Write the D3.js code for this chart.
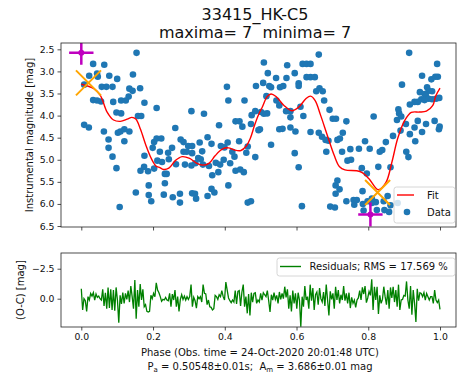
<!DOCTYPE html>
<html>
<head>
<meta charset="utf-8">
<script src="https://cdn.jsdelivr.net/npm/d3@7"></script>
<style>
  body { margin: 0; background: #fff; }
  text { font-family: "DejaVu Sans", sans-serif; fill: #111; white-space: pre; }
</style>
</head>
<body>
<svg id="chart"></svg>
<script>
// ---- data ----
const phase = [
  0.154,0.033,0.064,0.022,0.044,0.046,0.078,0.100,0.144,0.008,0.057,0.070,0.087,0.134,0.143,0.164,
  0.033,0.044,0.055,0.089,0.111,0.124,0.132,0.176,0.210,0.098,0.111,0.158,0.167,0.008,0.021,0.063,
  0.102,0.109,0.120,0.134,0.076,0.120,0.076,0.087,0.098,0.176,0.203,0.210,0.199,0.165,0.175,0.186,
  0.203,0.212,0.188,0.152,0.188,0.195,0.107,
  0.223,0.219,0.225,0.233,0.238,0.233,0.230,0.255,0.275,0.275,0.262,0.242,0.253,0.244,0.264,0.277,
  0.285,0.285,0.294,0.298,0.309,0.309,0.289,0.307,0.330,0.337,0.333,0.326,0.318,0.339,0.352,0.363,
  0.356,0.375,0.365,0.382,0.387,0.397,0.389,0.399,0.408,0.421,0.427,0.415,0.430,0.443,0.453,0.440,
  0.464,0.460,0.485,0.384,0.307,0.342,0.406,0.410,0.455,0.487,0.430,0.441,0.449,0.473,0.475,0.485,
  0.494,0.410,0.352,0.363,0.371,0.317,0.309,0.320,0.464,0.473,
  0.662,0.509,0.574,0.617,0.628,0.639,0.520,0.543,0.595,0.572,0.628,0.639,0.651,0.507,0.606,0.606,
  0.524,0.529,0.554,0.563,0.664,0.673,0.655,0.516,0.544,0.552,0.571,0.583,0.611,0.677,0.692,0.501,
  0.518,0.509,0.583,0.619,0.701,0.710,0.498,0.552,0.561,0.583,0.597,0.639,0.662,0.671,0.681,0.689,
  0.739,0.729,0.721,0.714,0.529,0.595,0.683,0.727,0.750,0.742,0.752,0.606,0.714,0.709,0.720,0.709,
  0.739,0.759,0.615,0.694,0.707,0.761,
  0.914,0.992,0.994,0.987,0.950,0.894,0.976,0.964,0.968,0.978,0.944,0.957,0.961,0.948,0.957,0.968,
  0.978,0.989,0.998,0.929,0.938,0.916,0.884,0.815,0.886,0.892,0.880,0.938,0.985,0.905,0.961,0.929,
  0.999,0.997,0.890,0.916,0.950,0.931,0.869,0.849,0.791,0.774,0.804,0.832,0.839,0.906,0.912,0.828,
  0.862,0.796,0.784,0.768,0.785,0.798,0.810,0.821,0.843,0.862,0.882,0.787,0.824,0.845,0.858,0.854,
  0.810,0.782
];
const mag = [
  2.58,2.83,2.85,3.10,3.05,3.12,3.10,3.17,3.07,3.30,3.35,3.35,3.35,3.39,3.44,3.38,
  3.65,3.66,3.68,3.69,3.66,3.66,3.57,3.71,3.83,3.93,3.95,4.01,4.01,4.21,4.27,4.36,
  4.39,4.36,4.31,4.36,4.54,4.58,4.73,4.93,5.19,4.91,4.60,4.52,4.73,5.25,5.16,5.26,
  5.20,5.02,5.58,5.74,5.80,5.94,6.07,
  4.52,4.82,5.05,5.32,5.32,5.53,5.79,5.85,5.77,5.97,4.28,4.84,4.73,4.99,5.10,4.54,
  4.60,4.82,4.82,4.69,4.69,4.85,5.11,5.13,4.61,4.81,4.99,4.96,5.08,5.11,4.49,4.64,
  5.14,5.07,5.35,5.28,5.11,5.00,4.69,4.72,4.61,4.82,4.93,5.08,5.25,5.22,5.28,4.58,
  4.70,4.84,4.94,4.22,3.90,3.96,3.35,3.66,3.66,3.33,4.13,4.13,4.25,4.19,3.99,3.90,
  4.33,5.58,5.82,5.66,5.74,5.77,5.76,5.88,5.97,5.94,
  2.62,2.80,2.86,2.83,2.83,2.83,3.04,3.15,3.04,3.15,3.13,3.13,3.13,3.26,3.27,3.33,
  3.33,3.36,3.36,3.33,3.38,3.45,3.45,3.56,3.66,3.77,3.90,3.90,3.80,3.66,3.87,3.92,
  3.95,3.96,4.04,4.01,4.07,4.07,4.31,4.31,4.30,4.27,4.36,4.37,4.39,4.48,4.55,4.57,
  4.13,4.39,4.52,4.55,4.66,4.85,4.82,4.82,4.76,5.02,5.00,5.17,5.47,5.58,5.67,5.77,
  5.94,5.91,6.05,6.06,6.08,6.02,
  2.58,2.83,3.12,3.12,3.10,3.30,3.18,3.36,3.44,3.45,3.47,3.51,3.56,3.63,3.65,3.62,
  3.63,3.62,3.60,3.69,3.69,3.75,3.86,4.02,3.95,4.02,4.10,4.12,4.12,4.19,4.19,4.27,
  4.25,4.31,4.34,4.42,4.37,4.58,4.46,4.60,4.58,4.75,4.75,4.82,4.78,4.82,4.94,5.16,
  5.17,5.31,5.71,5.91,6.00,5.94,5.98,5.96,5.94,6.03,5.98,6.15,6.14,6.14,6.18,5.82,
  5.88,5.19
];

// ---- fitted curve ----
const fitPhase = [0.000,0.035,0.053,0.072,0.090,0.109,0.128,0.141,0.152,0.165,0.180,0.195,0.208,0.219,
  0.229,0.244,0.262,0.281,0.302,0.320,0.337,0.356,0.373,0.393,0.410,0.427,0.445,0.460,0.471,0.483,
  0.494,0.505,0.518,0.529,0.543,0.565,0.587,0.606,0.626,0.639,0.652,0.667,0.686,0.705,0.720,0.735,
  0.768,0.783,0.802,0.828,0.849,0.866,0.882,0.901,0.920,0.942,0.962,0.980,0.988,1.000];
const fitMag = [3.29,3.39,3.54,3.92,4.10,4.13,4.08,4.04,4.08,4.31,4.67,4.97,5.14,5.18,
  5.22,5.19,5.02,4.93,4.97,5.07,5.12,5.08,4.91,4.76,4.73,4.78,4.79,4.69,4.52,4.22,
  3.98,3.80,3.57,3.51,3.57,3.77,3.89,3.81,3.62,3.56,3.66,3.99,4.45,4.90,5.16,5.23,
  5.25,5.29,5.43,5.68,5.52,5.05,4.52,4.12,3.93,3.92,3.90,3.77,3.56,3.38];

// observed extremes (magenta) and fitted extremes (orange)
const obsExtPhase = [0.000, 0.806];
const obsExtMag = [2.58, 6.24];
const obsErrPhase = [0.034, 0.034];
const obsErrMag = [0.27, 0.27];
const fitExtPhase = [0.020, 0.826];
const fitExtMag = [3.26, 5.74];

// ---- residuals O-C, evenly sampled in phase 0..1 ----
const residuals = [
  -0.83,0.94,0,0.17,1.06,-0.17,0.11,-0.44,-0.22,-0.5,0.11,-0.39,-0.11,-0.22,0,0.11,-0.78,0.61,-0.5,0.83,
  -0.94,0.78,-0.78,0.94,-0.72,1.0,-0.94,0.11,2.0,-0.28,0.44,-0.5,0.39,-0.44,0.06,-0.67,0.28,-1.06,-0.17,0.83,
  -1.56,1.67,-0.72,0.67,-1.22,0.11,-0.78,0.67,0.5,1.06,1.11,1.06,-0.28,0,-0.44,-0.17,-1.33,-0.72,-0.5,-0.17,
  0.22,0.06,0.11,-0.11,0.11,0.17,-0.44,0.67,-0.39,0.11,-0.72,0.67,-0.17,1.06,0.06,-0.33,0.06,-0.22,0.11,-0.17,
  0.06,-0.17,-1.17,0.67,-0.11,0.17,0.78,-0.17,0,-0.17,0.28,-1.17,-0.44,-0.39,0.5,0.11,0.67,0.72,0.94,0.83,
  -0.28,-0.17,0.06,-0.33,-0.17,-0.67,-0.17,0.11,-1.39,-0.72,-0.06,0.17,0.33,0.11,0.28,-0.67,0.44,-0.61,-0.67,0.61,
  -0.56,-1.17,0.67,-0.17,1.22,-0.39,1.39,-0.5,0.28,-0.44,-0.5,0.39,0.11,0.28,
  -0.44,0.11,-0.5,-0.33,-0.17,-0.67,0.17,1.11,-0.33,0.11,-0.5,0.06,-0.28,0.39,-0.56,0.06,-0.44,0,-1.0,-0.11,
  -0.78,0.83,-0.28,1.06,-0.67,0.39,-0.44,0.83,-0.5,0.11,2.33,-0.17,0.67,-1.06,0.11,-0.17,0.83,-1.17,0.17,-0.89,
  0.94,-0.33,-0.56,0.5,-0.89,0,0.28,-0.56,0.61,-1.17,0.11,1.39,-0.61,0.06,-0.44,0.83,-1.0,0.11,-0.72,0.39,
  -0.33,0.11,-1.06,0.17,-0.44,0.39,-0.5,0.78,-0.11,0.39,0.11,0.72,0.11,-0.06,-0.67,0.11,-0.94,-0.39,-1.06,0.33,
  -0.06,-0.61,-0.28,-1.61,0.94,-1.0,0.11,-1.0,1.28,-0.28,0.39,0.06,-1.0,-0.17,0.5,-0.72,0.83,-0.94,-0.06,-1.0,
  0.28,-0.72,0.67,-1.17,0.94,0.11,0.06,-0.28,-0.22,-1.44,0.11,0.83,-1.06,1.33,-0.72,0.39,1.94,-0.83,0.17,-0.5,
  -0.44,-0.17,-0.5,0.11,-0.44,-0.17,0.11,-0.17,-0.17,0.39,-0.72,0.11,0.33,0.11,0.89
];

const magTicks = [2.5, 3.0, 3.5, 4.0, 4.5, 5.0, 5.5, 6.0, 6.5];
const resTicks = [-2.5, 0.0];
const phaseTicks = [0.0, 0.2, 0.4, 0.6, 0.8, 1.0];

// ---- layout ----
const W = 457, H = 376;
const L = 61, R = 456;
const top1 = 43, bot1 = 227;
const top2 = 253, bot2 = 327;

const svg = d3.select("#chart").attr("width", W).attr("height", H);

const x = d3.scaleLinear().domain([-0.0566, 1.0446]).range([L, R]);
const y = d3.scaleLinear().domain([2.357, 6.522]).range([top1, bot1]);
const yr = d3.scaleLinear().domain([-3.81, 2.36]).range([top2, bot2]);
const idx = d3.scaleLinear().domain([0, residuals.length - 1]).range([0, 1]);

svg.append("defs").call(d => {
  d.append("clipPath").attr("id", "clip1").append("rect")
    .attr("x", L).attr("y", top1).attr("width", R - L).attr("height", bot1 - top1);
  d.append("clipPath").attr("id", "clip2").append("rect")
    .attr("x", L).attr("y", top2).attr("width", R - L).attr("height", bot2 - top2);
});

// title
svg.append("text").attr("x", 255).attr("y", 19.5).attr("text-anchor", "middle")
  .style("font-size", "16px").text("33415_HK-C5");
svg.append("text").attr("x", 255).attr("y", 37.5).attr("text-anchor", "middle")
  .style("font-size", "16px").text("maxima= 7  minima= 7");

// ---- top panel ----
const g1 = svg.append("g").attr("clip-path", "url(#clip1)");

g1.selectAll("circle.pt")
  .data(d3.range(phase.length))
  .join("circle")
  .attr("class", "pt")
  .attr("cx", i => x(phase[i]))
  .attr("cy", i => y(mag[i]))
  .attr("r", 3.3)
  .attr("fill", "#1f77b4");

const fitLine = d3.line()
  .x(i => x(fitPhase[i]))
  .y(i => y(fitMag[i]))
  .curve(d3.curveCatmullRom.alpha(0.5));

g1.append("path")
  .attr("d", fitLine(d3.range(fitPhase.length)))
  .attr("fill", "none").attr("stroke", "#ff0000").attr("stroke-width", 1.4);

// orange X at fitted extremes
fitExtPhase.forEach((p, i) => {
  const cx = x(p), cy = y(fitExtMag[i]), s = 12.5;
  g1.append("path")
    .attr("d", `M${cx - s},${cy - s}L${cx + s},${cy + s}M${cx - s},${cy + s}L${cx + s},${cy - s}`)
    .attr("stroke", "orange").attr("stroke-width", 2).attr("fill", "none");
});

// magenta error-bar crosses at observed extremes
obsExtPhase.forEach((p, i) => {
  const m = obsExtMag[i];
  g1.append("path")
    .attr("d", `M${x(p - obsErrPhase[i])},${y(m)}L${x(p + obsErrPhase[i])},${y(m)}` +
               `M${x(p)},${y(m - obsErrMag[i])}L${x(p)},${y(m + obsErrMag[i])}`)
    .attr("stroke", "#bf00bf").attr("stroke-width", 2.5).attr("fill", "none");
  g1.append("circle").attr("cx", x(p)).attr("cy", y(m)).attr("r", 3).attr("fill", "#bf00bf");
});

// frame + axes
svg.append("rect").attr("x", L).attr("y", top1).attr("width", R - L).attr("height", bot1 - top1)
  .attr("fill", "none").attr("stroke", "#222").attr("stroke-width", 0.8);

const yAx1 = svg.append("g").attr("transform", `translate(${L},0)`)
  .call(d3.axisLeft(y).tickValues(magTicks).tickFormat(d3.format(".1f")).tickSizeOuter(0).tickSize(3.5).tickPadding(3));
const xAx1 = svg.append("g").attr("transform", `translate(0,${bot1})`)
  .call(d3.axisBottom(x).tickValues(phaseTicks).tickFormat("").tickSizeOuter(0).tickSize(3.5));

// legend (top)
const lg1 = svg.append("g");
lg1.append("rect").attr("x", 394).attr("y", 187).attr("width", 61).attr("height", 36)
  .attr("rx", 2.5).attr("fill", "#fff").attr("fill-opacity", 0.8).attr("stroke", "#ccc").attr("stroke-width", 0.8);
lg1.append("line").attr("x1", 397).attr("x2", 414).attr("y1", 195).attr("y2", 195)
  .attr("stroke", "#ff0000").attr("stroke-width", 1.4);
lg1.append("text").attr("x", 427).attr("y", 198.5).style("font-size", "10px").text("Fit");
lg1.append("circle").attr("cx", 407).attr("cy", 212).attr("r", 3.3).attr("fill", "#1f77b4");
lg1.append("text").attr("x", 427).attr("y", 215.5).style("font-size", "10px").text("Data");

svg.append("text")
  .attr("transform", `translate(${29},${(top1 + bot1) / 2}) rotate(-90)`)
  .attr("text-anchor", "middle").attr("dy", "0.35em")
  .style("font-size", "10px").text("Instrumental magnitude [mag]");

// ---- bottom panel ----
const g2 = svg.append("g").attr("clip-path", "url(#clip2)");
const resLine = d3.line().x((d, i) => x(idx(i))).y(d => yr(d));
g2.append("path").attr("d", resLine(residuals))
  .attr("fill", "none").attr("stroke", "#008000").attr("stroke-width", 1.3);

svg.append("rect").attr("x", L).attr("y", top2).attr("width", R - L).attr("height", bot2 - top2)
  .attr("fill", "none").attr("stroke", "#222").attr("stroke-width", 0.8);

const yAx2 = svg.append("g").attr("transform", `translate(${L},0)`)
  .call(d3.axisLeft(yr).tickValues(resTicks).tickFormat(d => d3.format(".1f")(d).replace("-", "\u2212"))
    .tickSizeOuter(0).tickSize(3.5).tickPadding(3));
const xAx2 = svg.append("g").attr("transform", `translate(0,${bot2})`)
  .call(d3.axisBottom(x).tickValues(phaseTicks).tickFormat(d3.format(".1f")).tickSizeOuter(0).tickSize(3.5).tickPadding(3));

[yAx1, xAx1, yAx2, xAx2].forEach(a => {
  a.select(".domain").remove();
  a.selectAll(".tick line").attr("stroke", "#222").attr("stroke-width", 0.8);
  a.selectAll(".tick text").style("font-family", "DejaVu Sans").style("font-size", "9.3px").attr("fill", "#111");
});

// legend (bottom)
const lg2 = svg.append("g");
lg2.append("rect").attr("x", 277).attr("y", 258).attr("width", 178).attr("height", 18)
  .attr("rx", 2.5).attr("fill", "#fff").attr("fill-opacity", 0.8).attr("stroke", "#ccc").attr("stroke-width", 0.8);
lg2.append("line").attr("x1", 280).attr("x2", 301).attr("y1", 266.5).attr("y2", 266.5)
  .attr("stroke", "#008000").attr("stroke-width", 1.4);
lg2.append("text").attr("x", 309.5).attr("y", 270.2).style("font-size", "10px")
  .text("Residuals; RMS = 17.569 %");

svg.append("text")
  .attr("transform", `translate(${20},${(top2 + bot2) / 2}) rotate(-90)`)
  .attr("text-anchor", "middle").attr("dy", "0.35em")
  .style("font-size", "10px").text("(O-C) [mag]");

// x labels
svg.append("text").attr("x", 260).attr("y", 355.5).attr("text-anchor", "middle")
  .style("font-size", "10px").text("Phase (Obs. time = 24-Oct-2020 20:01:48 UTC)");
const l2 = svg.append("text").attr("x", 260).attr("y", 369.5).attr("text-anchor", "middle")
  .style("font-size", "10px");
l2.append("tspan").text("P");
l2.append("tspan").attr("dy", 2).style("font-size", "7px").text("a");
l2.append("tspan").attr("dy", -2).text(" = 0.50548\u00b10.01s;  A");
l2.append("tspan").attr("dy", 2).style("font-size", "7px").text("m");
l2.append("tspan").attr("dy", -2).text(" = 3.686\u00b10.01 mag");
</script>
</body>
</html>
